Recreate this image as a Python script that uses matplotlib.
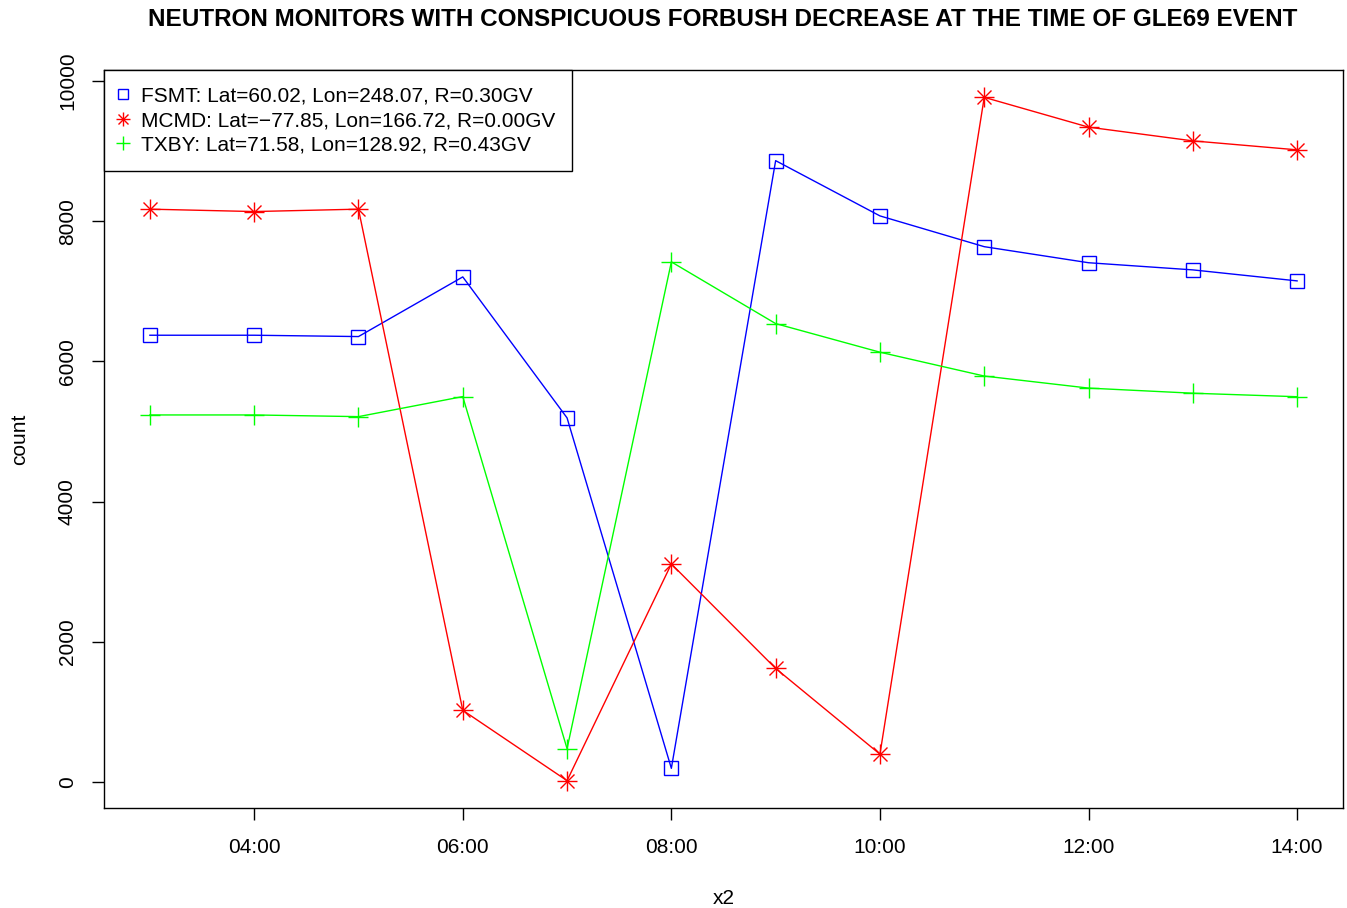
import datetime as dt
import matplotlib
matplotlib.use("Agg")
import matplotlib.pyplot as plt
import matplotlib.dates as mdates
from matplotlib.lines import Line2D
from matplotlib.legend_handler import HandlerTuple

plt.rcParams['font.family'] = ['Liberation Sans', 'DejaVu Sans']

# hourly times on the day of GLE69 (2005-01-20)
hours = [3, 4, 5, 6, 7, 8, 9, 10, 11, 12, 13, 14]
times = [dt.datetime(2005, 1, 20, h) for h in hours]

fsmt = [6372, 6372, 6353, 7204, 5193, 195, 8862, 8074, 7635, 7406, 7304, 7147]
mcmd = [8170, 8136, 8170, 1023, 19, 3110, 1620, 397, 9765, 9340, 9144, 9016]
txby = [5235, 5235, 5211, 5497, 475, 7418, 6538, 6130, 5790, 5618, 5545, 5495]

labels = ["FSMT: Lat=60.02, Lon=248.07, R=0.30GV",
          "MCMD: Lat=\u221277.85, Lon=166.72, R=0.00GV",
          "TXBY: Lat=71.58, Lon=128.92, R=0.43GV"]

blue = "#0000FF"
red = "#FF0000"
green = "#00FF00"

fig = plt.figure(figsize=(13.47, 9.08), dpi=100)
ax = fig.add_axes([104 / 1347, 100 / 908, 1239 / 1347, 738 / 908])

lw = 1.0
ax.plot(times, fsmt, color=blue, lw=lw, marker="s", ms=9.5, mfc="none", mec=blue, mew=lw)
ax.plot(times, mcmd, color=red, lw=lw, marker="+", ms=14, mec=red, mew=lw)
ax.plot(times, mcmd, color=red, lw=0, marker="x", ms=10, mec=red, mew=lw)
ax.plot(times, txby, color=green, lw=lw, marker="+", ms=14, mec=green, mew=lw)

ax.margins(0.04)

ax.xaxis.set_major_locator(mdates.HourLocator(byhour=range(4, 15, 2)))
ax.xaxis.set_major_formatter(mdates.DateFormatter("%H:%M"))
ax.set_yticks([0, 2000, 4000, 6000, 8000, 10000])
ax.tick_params(axis="both", direction="out", length=8.5, width=1.0, labelsize=15)
ax.tick_params(axis="x", pad=13)
ax.tick_params(axis="y", pad=11)
for t in ax.get_yticklabels():
    t.set_rotation(90)
    t.set_va("center")

for s in ax.spines.values():
    s.set_linewidth(1.0)

ax.set_xlabel("x2", fontsize=15, labelpad=23)
ax.set_ylabel("count", fontsize=15, labelpad=21)
fig.text(723 / 1347, 1 - 20 / 908, "NEUTRON MONITORS WITH CONSPICUOUS FORBUSH DECREASE AT THE TIME OF GLE69 EVENT",
         ha="center", va="center", fontsize=17.5, fontweight="bold")

h1 = Line2D([], [], ls="none", marker="s", ms=7, mfc="none", mec=blue, mew=lw)
h2a = Line2D([], [], ls="none", marker="+", ms=10, mec=red, mew=lw)
h2b = Line2D([], [], ls="none", marker="x", ms=7, mec=red, mew=lw)
h3 = Line2D([], [], ls="none", marker="+", ms=10, mec=green, mew=lw)
leg = ax.legend([h1, (h2a, h2b), h3], labels, loc="upper left", borderaxespad=0,
                fontsize=15, fancybox=False, framealpha=1, edgecolor="black",
                handlelength=0.25, handletextpad=0.74, borderpad=0.79, labelspacing=0.27,
                handler_map={tuple: HandlerTuple(ndivide=1)})
leg.get_frame().set_linewidth(1.0)

fig.savefig("out.png", dpi=100)
